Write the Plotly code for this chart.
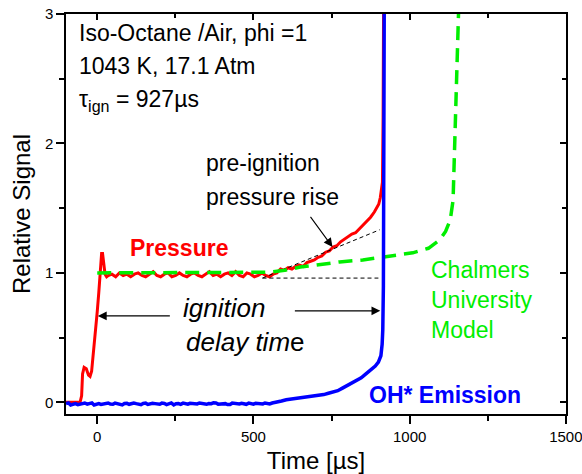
import plotly.graph_objects as go

# ---- data ----
pressure_t = [-100, -55, -50, -47, -42, -35, -28, -23, -18, -12, -6, 0, 5, 10, 14, 17, 21, 25, 30,
              35, 47, 59, 71, 83, 95, 107, 119, 131, 143, 155, 167, 179, 191, 203, 215, 227, 239, 251,
              263, 275, 287, 299, 311, 323, 335, 347, 359, 371, 383, 395, 407, 419, 431, 443, 455, 467,
              479, 491, 503, 515, 527, 539, 551,
              563, 575, 587, 599, 611, 623, 635, 647, 659, 671, 683, 695, 707, 719, 731, 743, 755, 767,
              779, 791, 803, 815, 827, 839, 851, 863, 875, 887, 895, 901, 906, 910, 913, 915, 917]
pressure_v = [0.0, 0.0, 0.05, 0.22, 0.27, 0.26, 0.21, 0.20, 0.24, 0.38, 0.55, 0.70, 0.85, 1.02, 1.15, 1.15, 1.06, 0.99, 0.97,
              0.98, 0.99, 0.97, 1.0, 0.98, 0.99, 0.97, 0.99, 1.0, 0.98, 0.97, 0.99, 1.01, 0.98, 0.97, 0.99, 1.0, 0.97, 0.98,
              1.0, 0.98, 0.97, 0.99, 1.0, 0.98, 0.97, 0.99, 1.01, 0.98, 0.99, 0.97, 0.99, 1.0, 0.98, 1.01, 0.98, 0.97,
              1.0, 0.99, 0.97, 0.98, 1.0, 0.98, 0.97,
              0.99, 1.0, 1.03, 1.02, 1.04, 1.03, 1.05, 1.06, 1.05, 1.08, 1.09, 1.1, 1.12, 1.13, 1.16, 1.17, 1.2, 1.21,
              1.24, 1.26, 1.28, 1.3, 1.31, 1.34, 1.37, 1.4, 1.43, 1.47, 1.5, 1.53, 1.58, 1.64, 1.7, 2.2, 3.3]

oh_t = [-100, -92, -85, -77, -70, -62, -55, -47, -40, -32, -25, -17, -10, -2, 5, 12, 20, 27, 35, 42, 50,
        57, 65, 72, 80, 87, 95, 102, 110, 117, 125, 132, 140, 147, 155, 162, 170, 177, 185, 192, 200,
        207, 215, 222, 230, 237, 245, 252, 260, 267, 275, 282, 290, 297, 305, 312, 320, 327, 335, 342, 350,
        357, 365, 372, 380, 387, 395, 402, 410, 417, 425, 432, 440, 447, 455, 462, 470, 477, 485, 492, 500,
        507, 515, 522, 530, 537, 545, 552, 560,
        575, 590, 605, 620, 635, 650, 665, 680, 695, 710, 725, 740, 755, 770, 785, 800,
        815, 830, 845, 860, 875, 890, 900, 908, 912, 914, 916, 917, 918, 919]
oh_v = [-0.01, -0.004, -0.02, -0.012, -0.01, -0.018, -0.015, -0.006, -0.005, -0.014, -0.01, -0.004,
        -0.02, -0.011, -0.01, -0.016, -0.012, -0.007, -0.005, -0.013, -0.015, -0.006, -0.01, -0.017,
        -0.02, -0.009, -0.008, -0.015, -0.012, -0.005, -0.01, -0.014, -0.018, -0.009, -0.006, -0.016,
        -0.012, -0.007, -0.01, -0.015, -0.015, -0.006, -0.008, -0.017, -0.012, -0.004, -0.02, -0.011,
        -0.01, -0.016, -0.006, -0.012, -0.014, -0.007, -0.01, -0.015, -0.012, -0.005, -0.008, -0.016,
        -0.015, -0.009, -0.01, -0.004, -0.005, -0.014, -0.013, -0.008, -0.01, -0.017, -0.016, -0.006,
        -0.008, -0.013, -0.012, -0.007, -0.01, -0.015, -0.006, -0.011, -0.014, -0.007, -0.01, -0.013,
        -0.012, -0.005, -0.008, -0.012, -0.005,
        0.0, 0.01, 0.02, 0.025, 0.03, 0.035, 0.04, 0.042,
        0.05, 0.055, 0.06, 0.07, 0.08, 0.09, 0.11, 0.13, 0.15, 0.17, 0.19, 0.22, 0.25, 0.28, 0.31, 0.36,
        0.45, 0.56, 0.9, 1.5, 2.5, 3.3]

model_t = [0, 100, 200, 300, 400, 500, 550, 600, 650, 700, 776, 850, 905, 950, 1010, 1060, 1096,
           1115, 1130, 1139, 1145, 1150, 1157]
model_v = [1.0, 1.0, 1.0, 1.0, 1.0, 1.0, 1.005, 1.02, 1.045, 1.06, 1.085, 1.10, 1.12, 1.13, 1.155,
           1.19, 1.255, 1.32, 1.41, 1.56, 2.08, 2.6, 3.05]

base_t = [529, 900]
base_v = [0.96, 0.96]
tangent_t = [529, 904]
tangent_v = [0.96, 1.333]

x_ticks = [0, 500, 1000, 1500]
y_ticks = [0, 1, 2, 3]
x_range = [-100, 1500.5]
y_range = [-0.09, 3.0]

FONT = "Liberation Sans, Arial, sans-serif"

fig = go.Figure()
fig.add_trace(go.Scatter(x=pressure_t, y=pressure_v, mode="lines",
                         line=dict(color="#ff0000", width=3), showlegend=False))
fig.add_trace(go.Scatter(x=base_t, y=base_v, mode="lines",
                         line=dict(color="black", width=1, dash="4px,3px"), showlegend=False))
fig.add_trace(go.Scatter(x=tangent_t, y=tangent_v, mode="lines",
                         line=dict(color="black", width=1, dash="4px,3px"), showlegend=False))
fig.add_trace(go.Scatter(x=model_t, y=model_v, mode="lines",
                         line=dict(color="#00ee00", width=3.5, dash="14px,8px"), showlegend=False))
fig.add_trace(go.Scatter(x=oh_t, y=oh_v, mode="lines",
                         line=dict(color="#0000ff", width=3.5), showlegend=False))
# hidden trace that keeps the mirror (top/right) tick axes drawn
fig.add_trace(go.Scatter(x=[0], y=[0], xaxis="x2", yaxis="y2", mode="markers",
                         marker=dict(opacity=0), showlegend=False, hoverinfo="skip"))

def txt(x, y, s, size, color="black"):
    fig.add_annotation(x=x, y=y, text=s, showarrow=False, xanchor="left", yanchor="middle",
                       font=dict(family=FONT, size=size, color=color))

txt(-65, 2.85, "Iso-Octane /Air, phi =1", 23)
txt(-65, 2.595, "1043 K, 17.1 Atm", 23)
txt(-65, 2.33, "τ<sub>ign</sub> = 927µs", 23)
txt(343, 1.85, "pre-ignition", 23)
txt(343, 1.59, "pressure rise", 23)
txt(99, 1.19, "<b>Pressure</b>", 23, "#ff0000")
txt(1063, 1.02, "Chalmers", 23, "#00ee00")
txt(1063, 0.79, "University", 23, "#00ee00")
txt(1063, 0.56, "Model", 23, "#00ee00")
txt(269, 0.73, "<i>ignition</i>", 26)
txt(279, 0.467, "<i>delay tim</i>e", 26)
txt(864, 0.058, "<b>OH* Emission</b>", 23, "#0000ff")

def arrow(x, y, ax, ay):
    fig.add_annotation(x=x, y=y, ax=ax, ay=ay, axref="x", ayref="y", text=" ",
                       showarrow=True, arrowhead=2, arrowsize=1.6, arrowwidth=1.1, arrowcolor="black")

arrow(753, 1.2, 673, 1.465)
arrow(2, 0.668, 242, 0.668)
arrow(906, 0.707, 623, 0.707)

axis_common = dict(showline=True, mirror=True, linecolor="black", linewidth=1.5, showgrid=False,
                   zeroline=False, ticks="outside", tickcolor="black", tickwidth=1.5, automargin=False,
                   ticklabeloverflow="allow",
                   tickfont=dict(family=FONT, size=15, color="black"))
mirror_common = dict(showline=False, showgrid=False, zeroline=False, showticklabels=False,
                     ticks="inside", ticklen=6, tickcolor="black", tickwidth=1.5, automargin=False)

fig.update_layout(
    width=582, height=474,
    margin=dict(l=66, r=16, t=14, b=60, autoexpand=False),
    paper_bgcolor="white", plot_bgcolor="white",
    xaxis=dict(range=x_range, tickvals=x_ticks, ticklen=8,
               minor=dict(dtick=250, ticks="outside", ticklen=5, tickcolor="black", tickwidth=1.5),
               title=dict(text="Time [µs]", font=dict(family=FONT, size=24, color="black"), standoff=8),
               **axis_common),
    yaxis=dict(range=y_range, tickvals=y_ticks, ticklen=8,
               minor=dict(dtick=0.5, ticks="outside", ticklen=5, tickcolor="black", tickwidth=1.5),
               title=dict(text="Relative Signal", font=dict(family=FONT, size=24, color="black"), standoff=8),
               **axis_common),
    xaxis2=dict(range=x_range, overlaying="x", side="top", tickvals=x_ticks,
                minor=dict(dtick=250, ticks="inside", ticklen=4, tickcolor="black", tickwidth=1.5),
                **mirror_common),
    yaxis2=dict(range=y_range, overlaying="y", side="right", tickvals=y_ticks,
                minor=dict(dtick=0.5, ticks="inside", ticklen=4, tickcolor="black", tickwidth=1.5),
                **mirror_common),
)

fig.write_html("out.html")
